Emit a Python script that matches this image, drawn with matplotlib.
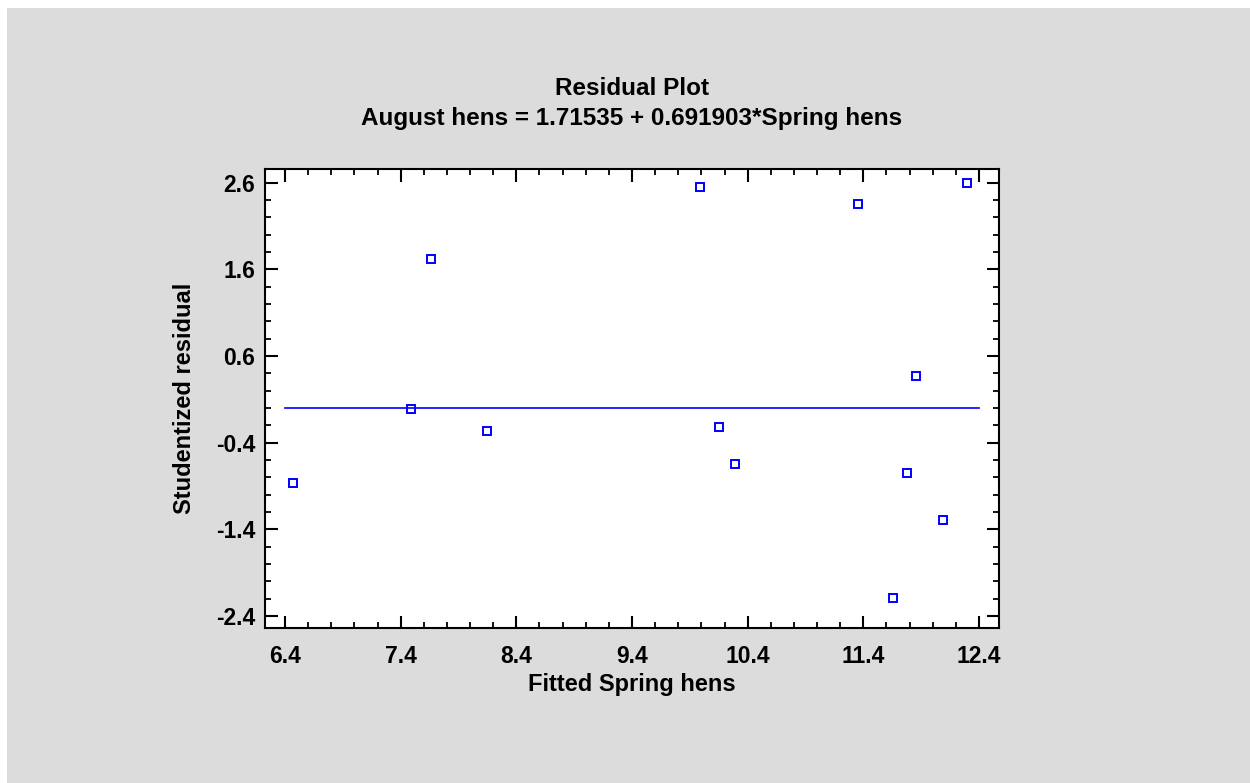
import matplotlib.pyplot as plt
from matplotlib.patches import Rectangle
from matplotlib.ticker import MultipleLocator

fitted = [6.467, 7.492, 7.659, 8.148, 9.987, 10.154, 10.292, 11.352, 11.655, 11.774, 11.856, 12.093, 12.295]
resid = [-0.867, -0.014, 1.716, -0.260, 2.554, -0.214, -0.645, 2.351, -2.194, -0.752, 0.371, -1.294, 2.597]
xticks = [6.4, 7.4, 8.4, 9.4, 10.4, 11.4, 12.4]
yticks = [-2.4, -1.4, -0.4, 0.6, 1.6, 2.6]

W, H = 1250, 783
plt.rcParams['font.family'] = ['Liberation Sans', 'DejaVu Sans']
plt.rcParams['font.weight'] = 'bold'

fig = plt.figure(figsize=(W / 100, H / 100), dpi=100, facecolor='white')
fig.patches.append(Rectangle((7 / W, 0), 1 - 7 / W, 1 - 8 / H, transform=fig.transFigure,
                             facecolor='#dcdcdc', edgecolor='none', zorder=-10))

ax = fig.add_axes([265 / W, 1 - 628 / H, (999 - 265) / W, (628 - 169) / H])
ax.set_facecolor('white')

ax.plot([xticks[0], xticks[-1]], [0, 0], color='#0000ff', lw=1.2)
ax.plot(fitted, resid, linestyle='none', marker='s', markersize=6.4,
        markerfacecolor='none', markeredgecolor='#0000ff', markeredgewidth=1.4)

ax.set_xlim(6.227, 12.573)
ax.set_ylim(-2.538, 2.758)
ax.set_xticks(xticks)
ax.set_yticks(yticks)
ax.set_xticklabels(['%.1f' % v for v in xticks])
ax.set_yticklabels(['%.1f' % v for v in yticks])
ax.xaxis.set_minor_locator(MultipleLocator(0.2))
ax.yaxis.set_minor_locator(MultipleLocator(0.2))
ax.tick_params(which='both', direction='in', top=True, right=True, labelsize=16.5, width=1.5)
ax.tick_params(which='major', length=9)
ax.tick_params(which='minor', length=4, width=1.3)
ax.tick_params(axis='x', which='major', pad=12)
ax.tick_params(axis='y', which='major', pad=7)
for s in ax.spines.values():
    s.set_linewidth(1.5)

ax.set_xlabel('Fitted Spring hens', fontsize=17, fontweight='bold', labelpad=4)
ax.set_ylabel('Studentized residual', fontsize=17, fontweight='bold', labelpad=14)

fig.text(632 / W, 1 - 95 / H, 'Residual Plot', ha='center', va='baseline', fontsize=17.5, fontweight='bold')
fig.text(632 / W, 1 - 125 / H, 'August hens = 1.71535 + 0.691903*Spring hens', ha='center', va='baseline',
         fontsize=17.5, fontweight='bold')

fig.savefig('out.png', dpi=100, facecolor=fig.get_facecolor())
